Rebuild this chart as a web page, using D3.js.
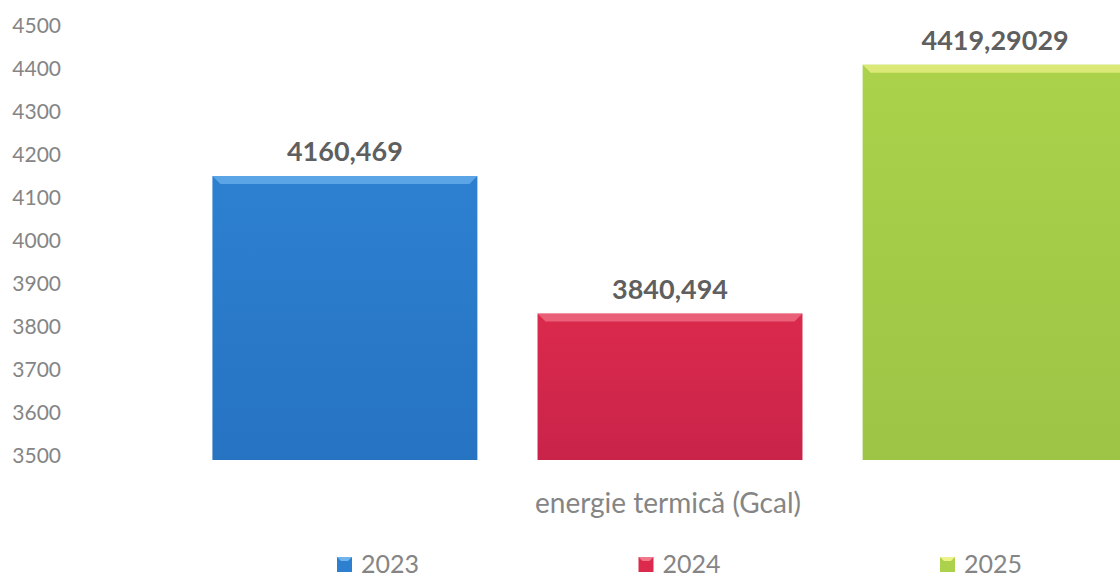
<!DOCTYPE html>
<html>
<head>
<meta charset="utf-8">
<script src="https://cdn.jsdelivr.net/npm/d3@7"></script>
<style>
    body { margin: 0; background: #fff; }
    text { font-family: Lato, "Open Sans", sans-serif; }
</style>
</head>
<body>
<script>
//chart data
var years = ["2023", "2024", "2025"];
var values = [4160.469, 3840.494, 4419.29029];
var valueLabels = ["4160,469", "3840,494", "4419,29029"];
var yTicks = [3500, 3600, 3700, 3800, 3900, 4000, 4100, 4200, 4300, 4400, 4500];
var category = "energie termică (Gcal)";

var colors = ["#2d80d0", "#db2a4c", "#abd24a"],
    topColors = ["#6fb4ee", "#f0788c", "#eef28a"],
    darkColors = ["#2673c2", "#c9234a", "#9dc445"];

window.onload = drawChart();

function drawChart(){
    var width = 1120,
        height = 578;

    var svg = d3.select("body")
        .append("svg")
        .attr("width", width)
        .attr("height", height);

    //y scale, baseline at 3500
    var y = d3.scaleLinear()
        .domain([3500, 4500])
        .range([460, 30]);

    //x scale for the three bars
    var x = d3.scaleBand()
        .domain(years)
        .range([182.5, 1157.5])
        .paddingInner(0.185)
        .paddingOuter(0.092);

    //vertical gradients for each bar
    var defs = svg.append("defs");
    years.forEach(function(yr, i){
        var g = defs.append("linearGradient")
            .attr("id", "grad" + i)
            .attr("x1", 0).attr("y1", 0).attr("x2", 0).attr("y2", 1);
        g.append("stop").attr("offset", "0%").attr("stop-color", colors[i]);
        g.append("stop").attr("offset", "100%").attr("stop-color", darkColors[i]);
    });

    //y axis labels only (no line, no ticks)
    var yAxis = d3.axisLeft(y)
        .tickValues(yTicks)
        .tickFormat(d3.format("d"))
        .tickSize(0)
        .tickPadding(0);

    var axisG = svg.append("g")
        .attr("transform", "translate(61,0)")
        .call(yAxis);
    axisG.select(".domain").remove();
    axisG.selectAll("text")
        .attr("dy", "0.1em")
        .style("font-family", "Lato, sans-serif")
        .style("font-size", "21px")
        .attr("fill", "#858585");

    //bars
    var bars = svg.selectAll(".bar")
        .data(years)
        .enter()
        .append("g")
        .attr("class", "bar");

    bars.append("rect")
        .attr("x", function(d){ return x(d); })
        .attr("y", function(d, i){ return y(values[i]); })
        .attr("width", x.bandwidth())
        .attr("height", function(d, i){ return y(3500) - y(values[i]); })
        .attr("fill", function(d, i){ return "url(#grad" + i + ")"; });

    //bevelled top edge
    var bevel = 8;
    bars.append("path")
        .attr("d", function(d, i){
            var x0 = x(d), x1 = x(d) + x.bandwidth(), t = y(values[i]);
            return "M" + x0 + "," + t + "L" + x1 + "," + t +
                "L" + (x1 - bevel) + "," + (t + bevel) +
                "L" + (x0 + bevel) + "," + (t + bevel) + "Z";
        })
        .attr("fill", function(d, i){ return topColors[i]; })
        .attr("opacity", 0.7);

    //value labels
    bars.append("text")
        .attr("x", function(d){ return x(d) + x.bandwidth() / 2; })
        .attr("y", function(d, i){ return y(values[i]) - 15; })
        .attr("text-anchor", "middle")
        .style("font-size", "27px")
        .style("font-weight", "bold")
        .attr("fill", "#5f5f5f")
        .text(function(d, i){ return valueLabels[i]; });

    //category label
    svg.append("text")
        .attr("x", 668)
        .attr("y", 513)
        .attr("text-anchor", "middle")
        .style("font-size", "28px")
        .attr("fill", "#858585")
        .text(category);

    //legend
    var legendX = d3.scalePoint()
        .domain(years)
        .range([337, 940]);

    var legend = svg.selectAll(".legend")
        .data(years)
        .enter()
        .append("g")
        .attr("class", "legend")
        .attr("transform", function(d){ return "translate(" + legendX(d) + ",564)"; });

    legend.append("rect")
        .attr("x", 0)
        .attr("y", -7)
        .attr("width", 15)
        .attr("height", 15)
        .attr("fill", function(d, i){ return colors[i]; });

    legend.append("path")
        .attr("d", "M0,-7L15,-7L11,-3L4,-3Z")
        .attr("fill", function(d, i){ return topColors[i]; });

    legend.append("text")
        .attr("x", 24)
        .attr("y", 0)
        .attr("dy", "0.36em")
        .style("font-size", "25px")
        .attr("fill", "#858585")
        .text(function(d){ return d; });
}
</script>
</body>
</html>
